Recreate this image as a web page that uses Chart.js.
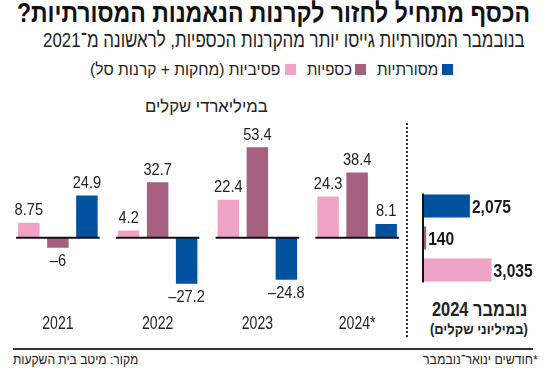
<!DOCTYPE html>
<html lang="he" dir="rtl">
<head>
<meta charset="utf-8">
<script src="https://cdn.jsdelivr.net/npm/chart.js@4.4.1/dist/chart.umd.min.js"></script>
<style>
    body { margin: 0; background: #fff; }
    #page { position: relative; width: 550px; height: 375px; overflow: hidden; color: #222;
        font-family: "Liberation Sans", Arial, sans-serif; }
    .t { position: absolute; white-space: nowrap; line-height: 1; transform-origin: left top; }
    .sq { position: absolute; width: 11px; height: 11px; top: 64px; }
    #sep { position: absolute; left: 406px; top: 123px; height: 214px; border-left: 2px dotted #333; }
    #rule { position: absolute; left: 13px; width: 520px; top: 348px; border-top: 2px solid #333; }
    canvas { position: absolute; }
</style>
</head>
<body>
<div id="page">
    <div class="t" data-l="17" data-r="530" style="top:0px;font-size:27px;font-weight:bold;color:#111">הכסף מתחיל לחזור לקרנות הנאמנות המסורתיות?</div>
    <div class="t" data-l="43" data-r="525" style="top:29px;font-size:21px">בנובמבר המסורתיות גייסו יותר מהקרנות הכספיות, לראשונה מ־2021</div>
    <div id="legend"></div>
    <div class="t" data-l="145" data-r="268" style="top:98px;font-size:17.5px">במיליארדי שקלים</div>
    <div id="sep"></div>
    <canvas id="chartAnos" dir="ltr" width="410" height="240" style="left:0;top:100px"></canvas>
    <canvas id="chartNov" dir="ltr" width="140" height="115" style="left:410px;top:180px"></canvas>
    <div class="t" data-l="432" data-r="527" style="top:300px;font-size:19.5px;font-weight:bold">נובמבר 2024</div>
    <div class="t" data-l="430" data-r="528" style="top:322px;font-size:14px;font-weight:bold">(במיליוני שקלים)</div>
    <div id="rule"></div>
    <div class="t" data-l="13" data-r="138" style="top:353px;font-size:13.5px">מקור: מיטב בית השקעות</div>
    <div class="t" data-l="423" data-r="538" style="top:353px;font-size:13.5px">*חודשים ינואר־נובמבר</div>
</div>
<script>
const anos = ["2021", "2022", "2023", "2024*"];
const nomes = ["פסיביות (מחקות + קרנות סל)", "כספיות", "מסורתיות"];
const cores = ["#efa3c7", "#a55f7f", "#00529f"];
const passivas = [8.75, 4.2, 22.4, 24.3];
const monetarias = [-6, 32.7, 53.4, 38.4];
const tradicionais = [24.9, -27.2, -24.8, 8.1];
const novLabels = ["מסורתיות", "כספיות", "פסיביות"];
const novValores = [2075, 140, 3035];
const novCores = ["#00529f", "#a55f7f", "#efa3c7"];

// posicoes da legenda (quadrado, texto esq, texto dir) na ordem de nomes
const legPos = [[285, 90, 280], [355, 307, 352], [442, 377, 438]];

const FONTE = '"Liberation Sans", Arial, sans-serif';
Chart.defaults.font.family = FONTE;
Chart.defaults.color = "#222";

const leg = document.querySelector("#legend");
nomes.forEach(function (n, i) {
    leg.innerHTML += '<div class="sq" style="left:' + legPos[i][0] + 'px;background:' + cores[i] + '"></div>' +
        '<div class="t" data-l="' + legPos[i][1] + '" data-r="' + legPos[i][2] + '" style="top:61.5px;font-size:16px">' + n + '</div>';
});

// fonte condensada: estica/encolhe cada texto para a largura do original
document.querySelectorAll(".t").forEach(function (el) {
    const l = +el.dataset.l, r = +el.dataset.r;
    el.style.left = l + "px";
    el.style.transform = "scaleX(" + ((r - l) / el.offsetWidth) + ")";
});

function texto(ctx, s, x, y, align, sx) {
    ctx.save();
    ctx.translate(x, y);
    ctx.scale(sx, 1);
    ctx.direction = "ltr";
    ctx.textAlign = align;
    ctx.fillText(s, 0, 0);
    ctx.restore();
}

function fmt(v) {
    return v < 0 ? "–" + Math.abs(v) : String(v);
}

// linha do zero por grupo, rotulos dos valores e dos anos
const rotulosAnos = {
    id: "rotulosAnos",
    afterDatasetsDraw(chart) {
        const ctx = chart.ctx;
        const y0 = chart.scales.y.getPixelForValue(0);
        ctx.save();
        ctx.strokeStyle = "#111";
        ctx.lineWidth = 2;
        anos.forEach(function (a, i) {
            let esq = Infinity, dir = -Infinity;
            chart.data.datasets.forEach(function (ds, d) {
                const el = chart.getDatasetMeta(d).data[i];
                esq = Math.min(esq, el.x - el.width / 2);
                dir = Math.max(dir, el.x + el.width / 2);
            });
            ctx.beginPath();
            ctx.moveTo(esq - 2, y0);
            ctx.lineTo(dir + 2, y0);
            ctx.stroke();
        });
        ctx.fillStyle = "#222";
        ctx.textBaseline = "alphabetic";
        ctx.font = "17px " + FONTE;
        chart.data.datasets.forEach(function (ds, d) {
            chart.getDatasetMeta(d).data.forEach(function (el, i) {
                const v = ds.data[i];
                const y = v >= 0 ? el.y - 7.5 : el.y + 18;
                texto(ctx, fmt(v), el.x, y, "center", 0.86);
            });
        });
        ctx.font = "18px " + FONTE;
        const xs = chart.scales.x;
        anos.forEach(function (a, i) {
            texto(ctx, a, xs.getPixelForValue(i), 229, "center", 0.78);
        });
        ctx.restore();
    }
};

new Chart("chartAnos", {
    type: "bar",
    data: {
        labels: anos,
        datasets: [
            { label: nomes[0], data: passivas, backgroundColor: cores[0] },
            { label: nomes[1], data: monetarias, backgroundColor: cores[1] },
            { label: nomes[2], data: tradicionais, backgroundColor: cores[2] }
        ]
    },
    options: {
        responsive: false,
        animation: false,
        layout: { padding: { top: 36, bottom: 34.6, left: 8, right: 3 } },
        datasets: { bar: { categoryPercentage: 0.873, barPercentage: 0.74 } },
        plugins: { legend: { display: false }, tooltip: { enabled: false } },
        scales: {
            x: { display: false },
            y: { display: false, min: -40, max: 60 }
        }
    },
    plugins: [rotulosAnos]
});

// eixo preto + valores das barras horizontais
const rotulosNov = {
    id: "rotulosNov",
    afterDatasetsDraw(chart) {
        const ctx = chart.ctx;
        const meta = chart.getDatasetMeta(0).data;
        const x0 = chart.scales.x.getPixelForValue(0);
        ctx.save();
        ctx.strokeStyle = "#111";
        ctx.lineWidth = 2;
        ctx.beginPath();
        ctx.moveTo(x0, meta[0].y - meta[0].height / 2 - 1);
        ctx.lineTo(x0, meta[2].y + meta[2].height / 2 + 1);
        ctx.stroke();
        ctx.font = "bold 18px " + FONTE;
        ctx.fillStyle = "#1a1a1a";
        ctx.textBaseline = "alphabetic";
        meta.forEach(function (el, i) {
            texto(ctx, novValores[i].toLocaleString("en-US"), el.x + 2, el.y + 7, "left", 0.87);
        });
        ctx.restore();
    }
};

new Chart("chartNov", {
    type: "bar",
    data: {
        labels: novLabels,
        datasets: [{ data: novValores, backgroundColor: novCores, categoryPercentage: 1, barPercentage: 0.72 }]
    },
    options: {
        indexAxis: "y",
        responsive: false,
        animation: false,
        layout: { padding: { top: 10, bottom: 9, left: 13, right: 5 } },
        plugins: { legend: { display: false }, tooltip: { enabled: false } },
        scales: {
            x: { display: false, min: 0, max: 5400 },
            y: { display: false }
        }
    },
    plugins: [rotulosNov]
});
</script>
</body>
</html>
